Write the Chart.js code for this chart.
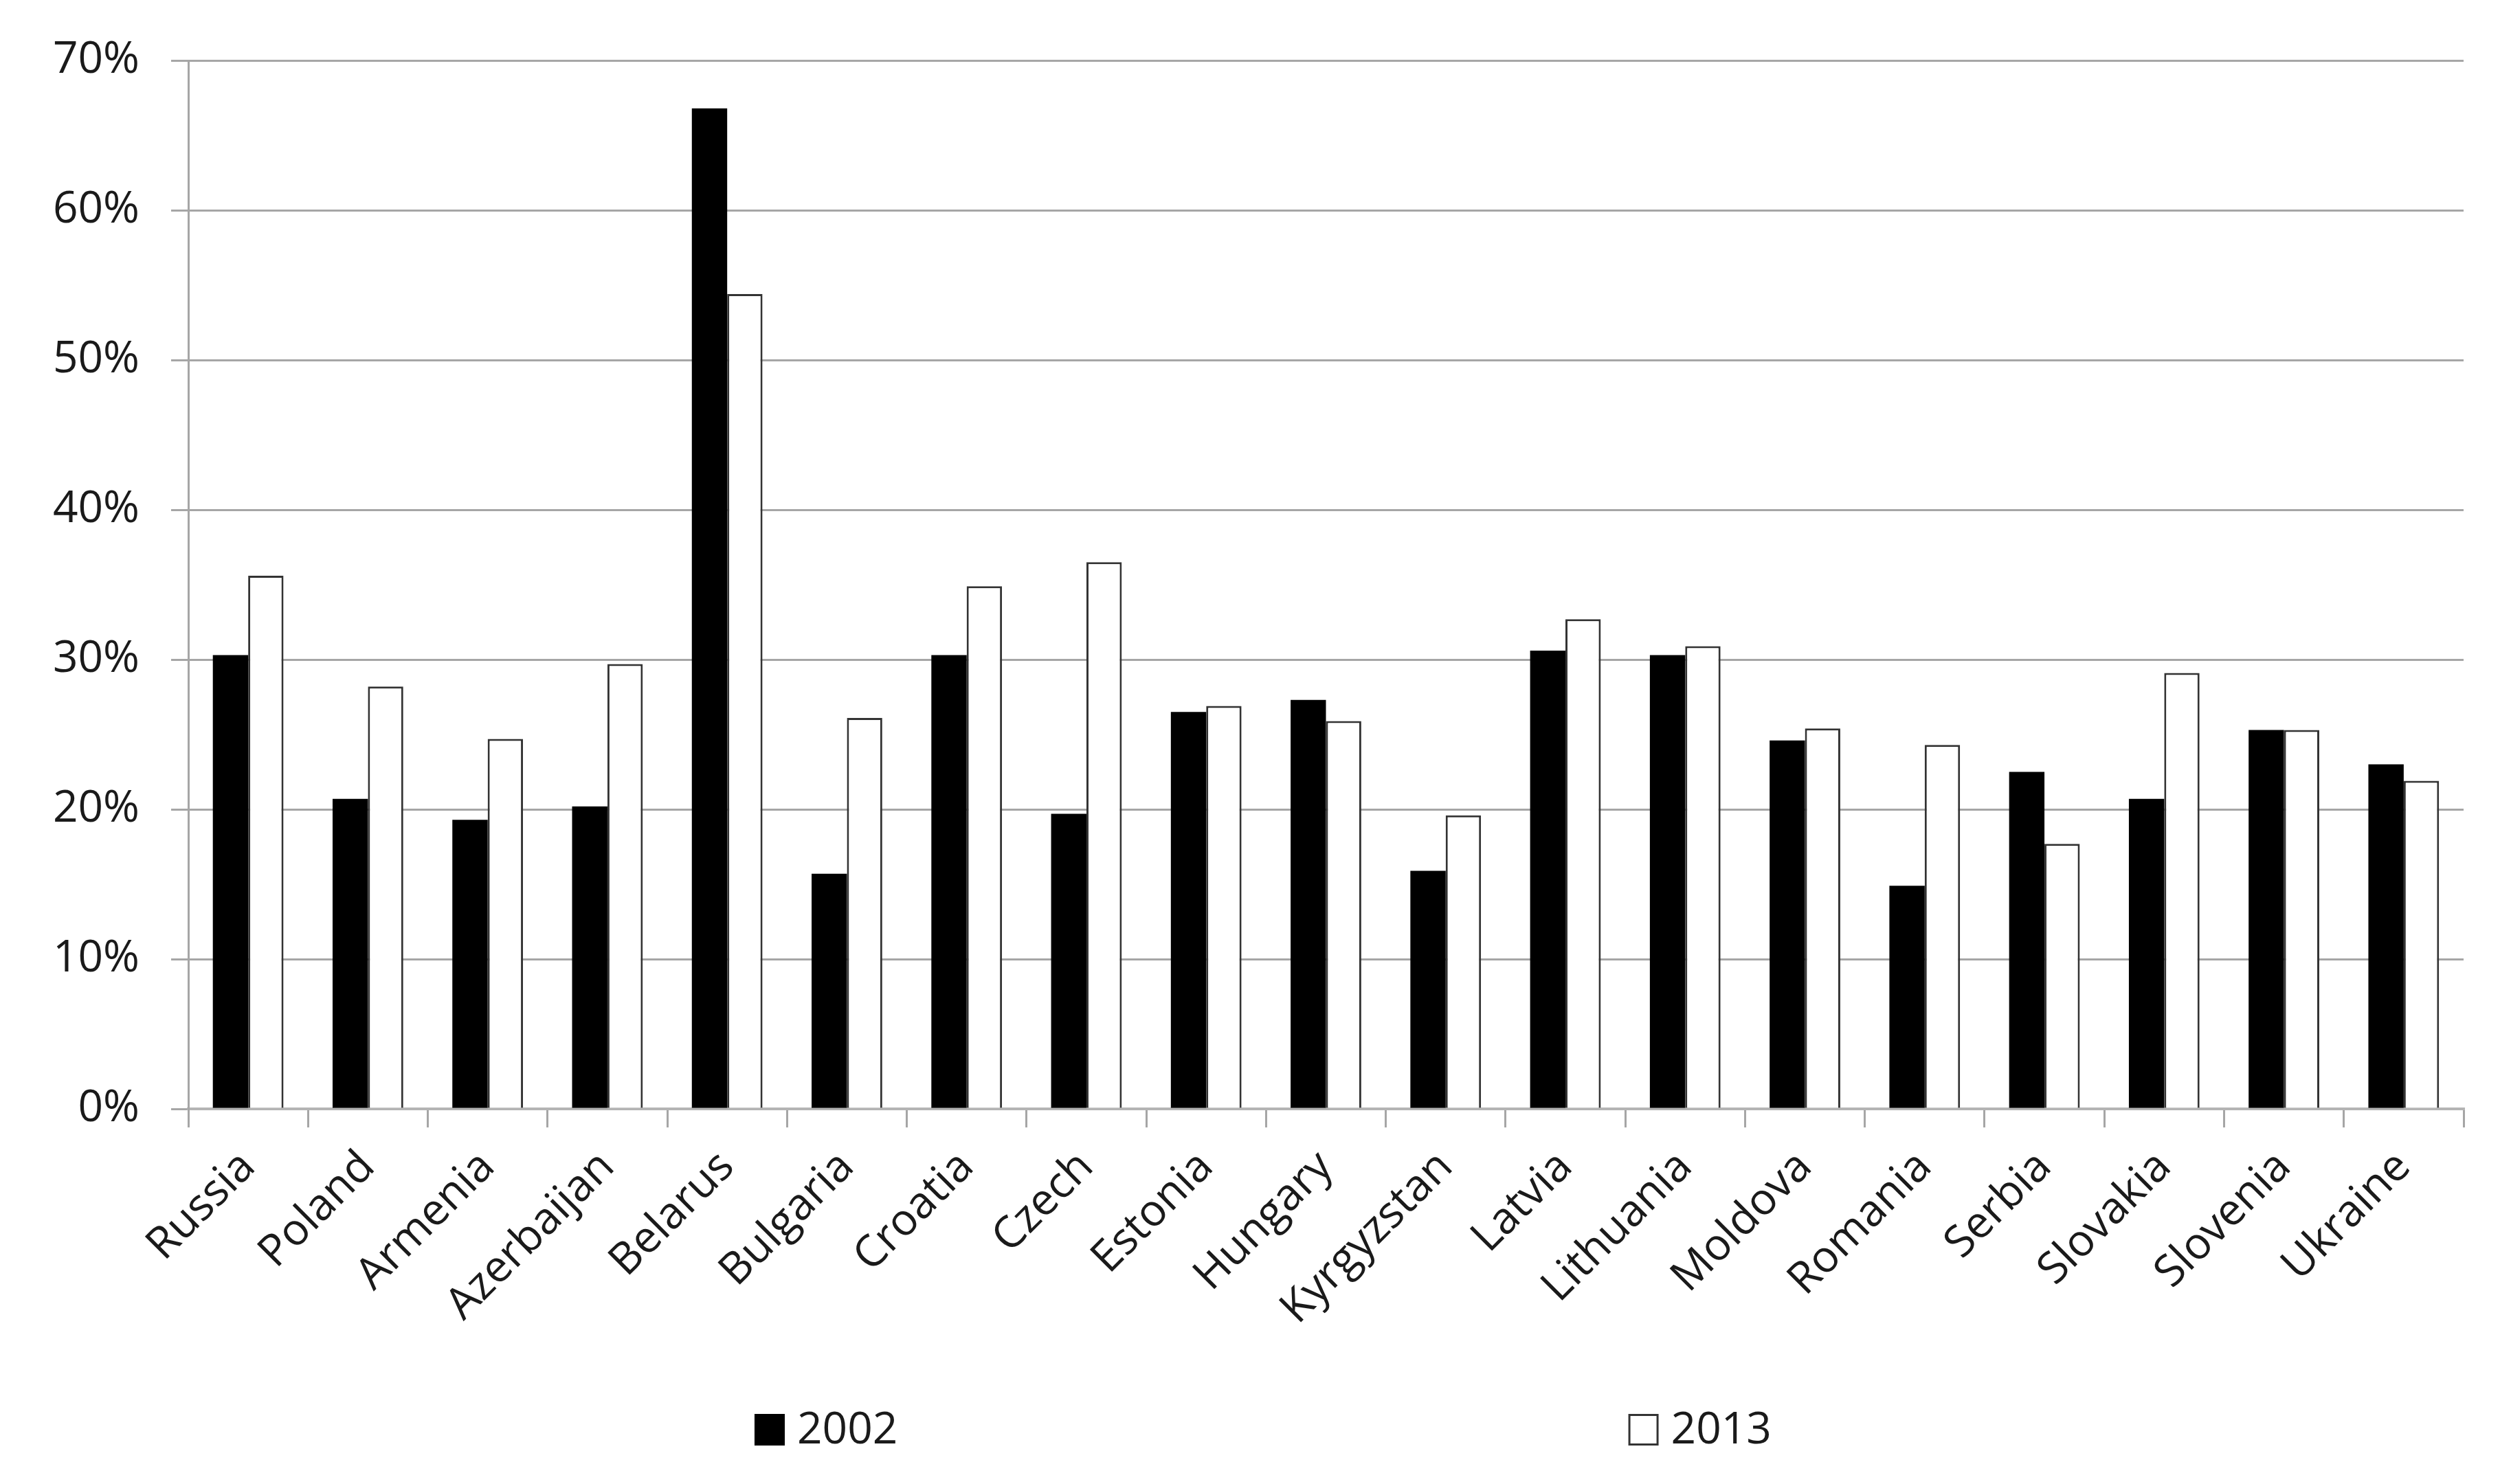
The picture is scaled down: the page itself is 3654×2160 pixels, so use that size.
<!DOCTYPE html>
<html>
<head>
<meta charset="utf-8">
<script src="https://cdn.jsdelivr.net/npm/chart.js@4.4.1/dist/chart.umd.min.js"></script>
<style>
  html, body { margin: 0; padding: 0; background: #fff; }
  #wrap { width: 3654px; height: 2160px; }
</style>
</head>
<body>
<div id="wrap"><canvas id="chart" width="3654" height="2160"></canvas></div>
<script>
const countries = ["Russia", "Poland", "Armenia", "Azerbaijan", "Belarus", "Bulgaria", "Croatia", "Czech",
  "Estonia", "Hungary", "Kyrgyzstan", "Latvia", "Lithuania", "Moldova", "Romania", "Serbia",
  "Slovakia", "Slovenia", "Ukraine"];
const share2002 = [30.3, 20.7, 19.3, 20.2, 66.8, 15.7, 30.3, 19.7, 26.5, 27.3, 15.9, 30.6, 30.3, 24.6, 14.9, 22.5, 20.7, 25.3, 23.0];
const share2013 = [35.6, 28.2, 24.7, 29.7, 54.4, 26.1, 34.9, 36.5, 26.9, 25.9, 19.6, 32.7, 30.9, 25.4, 24.3, 17.7, 29.1, 25.3, 21.9];
const yMax = 70;
const yStep = 10;

const FONT = "'Open Sans', 'DejaVu Sans', sans-serif";
const GRID = "#a6a6a6";

// legend drawn under the axis labels, two items spread apart like the original
const bottomLegend = {
  id: "bottomLegend",
  afterDraw(chart) {
    const ctx = chart.ctx;
    const centers = [0.329, 0.677];
    const y = 2081;
    ctx.save();
    ctx.font = "64px " + FONT;
    ctx.textBaseline = "middle";
    ctx.textAlign = "left";
    chart.data.datasets.forEach((ds, i) => {
      const textW = ctx.measureText(ds.label).width;
      const total = 44 + 18 + textW;
      const x0 = chart.width * centers[i] - total / 2;
      ctx.fillStyle = ds.backgroundColor;
      ctx.fillRect(x0, y - 23, 44, 46);
      ctx.lineWidth = 3;
      ctx.strokeStyle = ds.borderColor;
      ctx.strokeRect(x0 + 1.5, y - 21.5, 41, 43);
      ctx.fillStyle = "#1a1a1a";
      ctx.fillText(ds.label, x0 + 62, y + 2);
    });
    ctx.restore();
  }
};

new Chart(document.getElementById("chart").getContext("2d"), {
  type: "bar",
  plugins: [bottomLegend],
  data: {
    labels: countries,
    datasets: [{
      label: "2002",
      data: share2002,
      backgroundColor: "#000000",
      borderColor: "#000000",
      borderWidth: 0,
    }, {
      label: "2013",
      data: share2013,
      backgroundColor: "#ffffff",
      borderColor: "#333333",
      borderWidth: 3,
      borderSkipped: "bottom",
    }],
  },
  options: {
    responsive: false,
    animation: false,
    devicePixelRatio: 1,
    layout: { padding: { left: 0, top: 88, right: 69, bottom: 0 } },
    datasets: { bar: { categoryPercentage: 0.59, barPercentage: 1.0 } },
    plugins: {
      legend: { display: false },
      tooltip: { enabled: false },
    },
    scales: {
      x: {
        afterFit: (s) => { s.height = 546; },
        offset: true,
        grid: {
          offset: true,
          drawOnChartArea: false,
          drawTicks: true,
          tickLength: 27,
          color: GRID,
          lineWidth: 3,
        },
        border: { color: "#b4b4b4", width: 4 },
        ticks: {
          minRotation: 45,
          maxRotation: 45,
          autoSkip: false,
          padding: 20,
          color: "#1a1a1a",
          font: { family: FONT, size: 64 },
        },
      },
      y: {
        min: 0,
        max: yMax,
        afterFit: (s) => { s.width = 274; },
        grid: { color: GRID, lineWidth: 3, tickLength: 25 },
        border: { color: GRID, width: 3 },
        ticks: {
          stepSize: yStep,
          padding: 46,
          color: "#1a1a1a",
          font: { family: FONT, size: 64 },
          callback: (v) => v + "%",
        },
      },
    },
  },
});
</script>
</body>
</html>
